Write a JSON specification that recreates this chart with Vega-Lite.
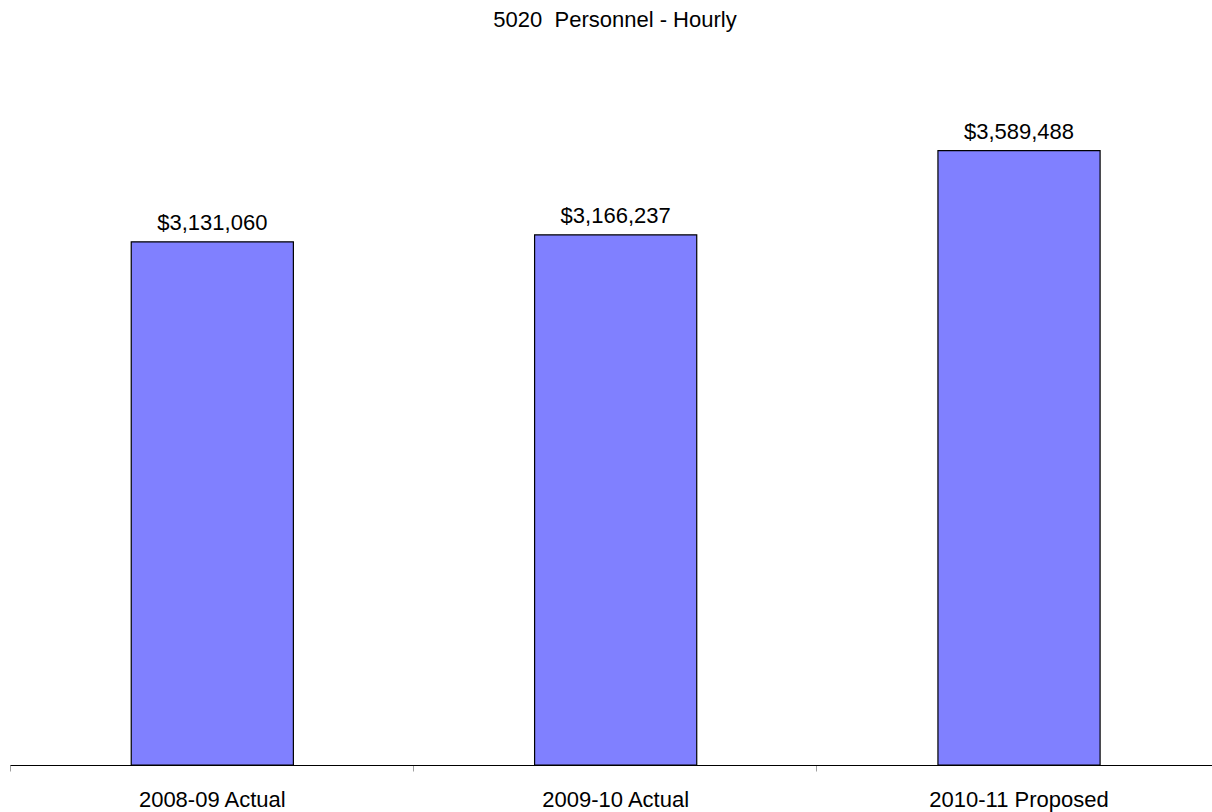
{
  "$schema": "https://vega.github.io/schema/vega-lite/v6.json",
  "autosize": {"type": "none"},
  "width": 1202,
  "height": 696,
  "padding": {"left": 10, "top": 69, "right": 0, "bottom": 47},
  "background": "white",
  "config": {
    "view": {"stroke": null},
    "font": "Liberation Sans"
  },
  "title": {
    "text": "5020\u00a0 Personnel - Hourly",
    "fontSize": 22,
    "fontWeight": "normal",
    "font": "Liberation Sans",
    "color": "black",
    "anchor": "middle",
    "baseline": "alphabetic",
    "offset": 20,
    "dx": 4
  },
  "data": {
    "values": [
      {"year": "2008-09 Actual", "amount": 3131060},
      {"year": "2009-10 Actual", "amount": 3166237},
      {"year": "2010-11 Proposed", "amount": 3589488}
    ]
  },
  "encoding": {
    "x": {
      "field": "year",
      "type": "nominal",
      "sort": null,
      "scale": {"paddingInner": 0.598, "paddingOuter": 0.289, "align": 0.52},
      "axis": {
        "title": null,
        "labelAngle": 0,
        "labelFontSize": 22,
        "labelFont": "Liberation Sans",
        "labelColor": "black",
        "labelBaseline": "alphabetic",
        "labelPadding": 35,
        "tickSize": 6,
        "tickColor": "#a0a0a0",
        "bandPosition": -0.747,
        "domainColor": "black",
        "domainWidth": 1,
        "grid": false
      }
    },
    "y": {
      "field": "amount",
      "type": "quantitative",
      "scale": {"domain": [500000, 4000000], "zero": false, "nice": false},
      "axis": null
    }
  },
  "layer": [
    {
      "mark": {"type": "bar", "fill": "#8080ff", "stroke": "black", "strokeWidth": 1.2},
      "encoding": {"y2": {"datum": 500000}}
    },
    {
      "mark": {"type": "text", "baseline": "alphabetic", "dy": -12, "fontSize": 22, "font": "Liberation Sans", "color": "black"},
      "encoding": {
        "text": {"field": "amount", "type": "quantitative", "format": "$,.0f"}
      }
    }
  ]
}
